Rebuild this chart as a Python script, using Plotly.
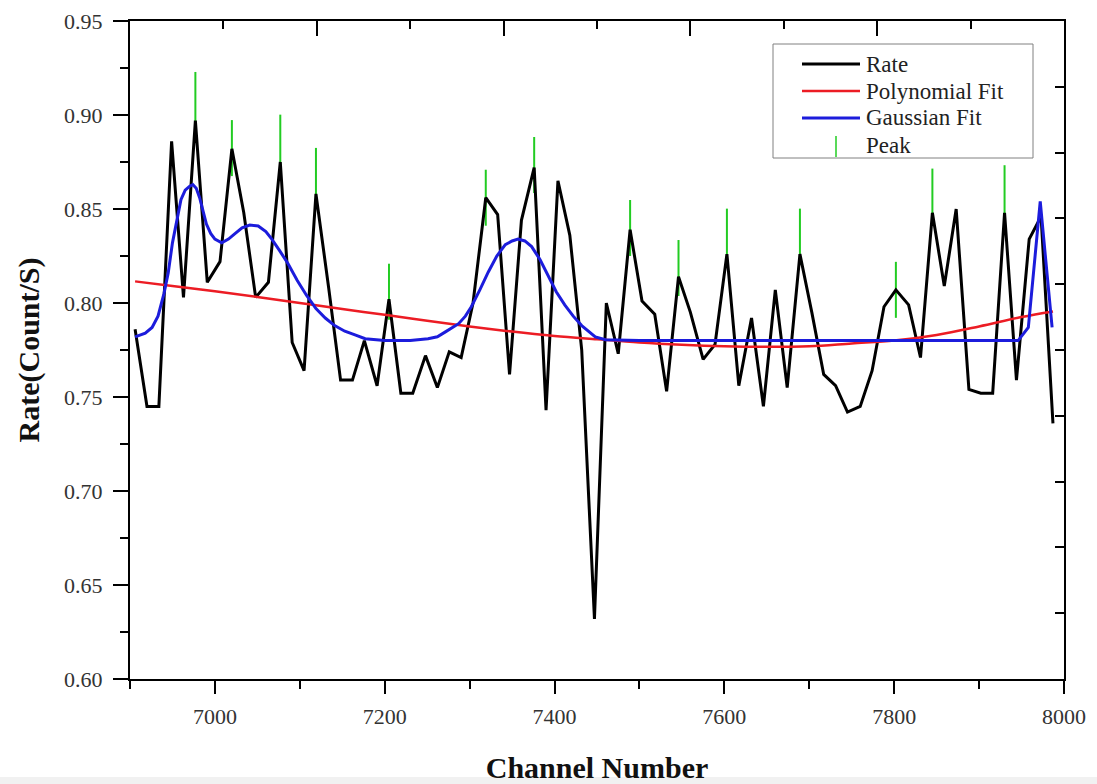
import plotly.graph_objects as go

# ---------------- data ----------------
channel = [6906, 6920, 6934, 6949, 6963, 6977, 6991, 7006, 7020, 7034,
           7048, 7063, 7077, 7091, 7105, 7119, 7134, 7148, 7162, 7176,
           7191, 7205, 7219, 7233, 7248, 7262, 7276, 7290, 7304, 7319,
           7333, 7347, 7361, 7376, 7390, 7404, 7418, 7432, 7447, 7461,
           7475, 7489, 7503, 7518, 7532, 7546, 7560, 7575, 7589, 7603,
           7617, 7632, 7646, 7660, 7674, 7689, 7703, 7717, 7731, 7745,
           7760, 7774, 7788, 7802, 7817, 7831, 7845, 7859, 7873, 7888,
           7902, 7916, 7930, 7944, 7959, 7973, 7987]
rate = [0.786, 0.745, 0.745, 0.886, 0.803, 0.897, 0.811, 0.822, 0.882, 0.848,
        0.803, 0.811, 0.875, 0.779, 0.764, 0.858, 0.808, 0.759, 0.759, 0.780,
        0.756, 0.802, 0.752, 0.752, 0.772, 0.755, 0.774, 0.771, 0.800, 0.856,
        0.847, 0.762, 0.844, 0.872, 0.743, 0.865, 0.836, 0.775, 0.632, 0.800,
        0.773, 0.839, 0.801, 0.794, 0.753, 0.814, 0.795, 0.770, 0.778, 0.826,
        0.756, 0.792, 0.745, 0.807, 0.755, 0.826, 0.795, 0.762, 0.756, 0.742,
        0.745, 0.764, 0.798, 0.807, 0.799, 0.771, 0.848, 0.809, 0.850, 0.754,
        0.752, 0.752, 0.848, 0.759, 0.834, 0.846, 0.736]

poly_x = [6906, 6950, 7000, 7050, 7100, 7150, 7200, 7250, 7300, 7350, 7400, 7450,
          7500, 7550, 7600, 7650, 7700, 7750, 7800, 7850, 7900, 7950, 7987]
poly_y = [0.8115, 0.8090, 0.8062, 0.8032, 0.8000, 0.7968, 0.7937, 0.7905, 0.7875,
          0.7848, 0.7825, 0.7807, 0.7790, 0.7778, 0.7770, 0.7767, 0.7770, 0.7785,
          0.7800, 0.7830, 0.7875, 0.7925, 0.7955]

gauss_x = [6906, 6918, 6926, 6933, 6940, 6945, 6950, 6956, 6960, 6965, 6970, 6974,
           6978, 6982, 6986, 6990, 6995, 7000, 7008, 7016, 7024, 7032, 7041, 7051,
           7060, 7067, 7076, 7086, 7097, 7108, 7119, 7130, 7141, 7153, 7165, 7177,
           7200, 7230, 7251, 7262, 7271, 7280, 7287, 7295, 7302, 7312, 7322, 7332,
           7342, 7350, 7357, 7365, 7373, 7383, 7393, 7402, 7412, 7422, 7432, 7440,
           7448, 7460, 7500, 7600, 7700, 7800, 7900, 7946, 7958, 7972, 7986]
gauss_y = [0.782, 0.784, 0.787, 0.793, 0.805, 0.816, 0.832, 0.846, 0.855, 0.860,
           0.862, 0.863, 0.861, 0.856, 0.849, 0.842, 0.837, 0.834, 0.832, 0.834,
           0.837, 0.840, 0.8415, 0.841, 0.838, 0.834, 0.828, 0.821, 0.812, 0.804,
           0.797, 0.792, 0.788, 0.785, 0.783, 0.781, 0.780, 0.780, 0.781, 0.782,
           0.7845, 0.787, 0.789, 0.793, 0.798, 0.807, 0.8165, 0.825, 0.831, 0.833,
           0.834, 0.833, 0.830, 0.823, 0.814, 0.806, 0.799, 0.793, 0.788, 0.785,
           0.782, 0.7805, 0.780, 0.780, 0.780, 0.780, 0.780, 0.780, 0.787, 0.854,
           0.787]

peak_x = [6977, 7020, 7077, 7119, 7205, 7319, 7376, 7489, 7546, 7603, 7689, 7802, 7845, 7930]
peak_y = [0.908, 0.8824, 0.8853, 0.8676, 0.806, 0.856, 0.8734, 0.8399, 0.8186,
          0.8353, 0.8353, 0.807, 0.8566, 0.8584]

legend_names = ["Rate", "Polynomial Fit", "Gaussian Fit", "Peak"]

x_range = [6900, 8000]
y_range = [0.60, 0.95]

SERIF = "Liberation Serif, Times New Roman, serif"
BLACK, RED, BLUE, GREEN = "#000000", "#ec1c24", "#1c1cdc", "#22cc22"

fig = go.Figure()
fig.add_trace(go.Scatter(
    x=peak_x, y=peak_y, mode="markers", name=legend_names[3],
    marker=dict(symbol="line-ns", size=40, color=GREEN,
                line=dict(color=GREEN, width=2))))
fig.add_trace(go.Scatter(
    x=channel, y=rate, mode="lines", name=legend_names[0],
    line=dict(color=BLACK, width=3)))
fig.add_trace(go.Scatter(
    x=poly_x, y=poly_y, mode="lines", name=legend_names[1],
    line=dict(color=RED, width=2.5, shape="spline")))
fig.add_trace(go.Scatter(
    x=gauss_x, y=gauss_y, mode="lines", name=legend_names[2],
    line=dict(color=BLUE, width=3)))
# empty trace so the top / right frame axes get drawn
fig.add_trace(go.Scatter(x=[], y=[], xaxis="x2", yaxis="y2",
                         hoverinfo="skip", showlegend=False))

tickfont = dict(family=SERIF, size=22, color="#333333")
titlefont = dict(family=SERIF, size=30, color="#111111", weight="bold")

fig.update_layout(
    width=1097, height=784,
    margin=dict(l=130, r=33, t=21, b=105, autoexpand=False),
    paper_bgcolor="white", plot_bgcolor="white",
    font=dict(family=SERIF),
    showlegend=False,
    xaxis=dict(
        range=x_range, showgrid=False, zeroline=False,
        showline=True, linecolor="black", linewidth=2,
        ticks="outside", ticklen=13, tickwidth=2, tickcolor="black",
        tick0=0, dtick=200, ticklabelstandoff=4,
        minor=dict(ticks="outside", ticklen=8, tickwidth=2, tickcolor="black",
                   tick0=0, dtick=100, showgrid=False),
        tickfont=dict(tickfont),
        title=dict(text="Channel Number", font=dict(titlefont), standoff=36),
    ),
    yaxis=dict(
        range=y_range, showgrid=False, zeroline=False,
        showline=True, linecolor="black", linewidth=2,
        ticks="outside", ticklen=15, tickwidth=2, tickcolor="black",
        tick0=0, dtick=0.05, tickformat=".2f", ticklabelstandoff=6,
        minor=dict(ticks="outside", ticklen=8, tickwidth=2, tickcolor="black",
                   tick0=0, dtick=0.025, showgrid=False),
        tickfont=dict(tickfont),
        title=dict(text="Rate(Count/S)", font=dict(titlefont), standoff=16),
    ),
    xaxis2=dict(
        overlaying="x", side="top", anchor="y2", range=[0, 10],
        showgrid=False, zeroline=False, showticklabels=False,
        showline=True, linecolor="black", linewidth=2,
        ticks="inside", ticklen=15, tickwidth=2, tickcolor="black",
        tick0=0, dtick=2,
        minor=dict(ticks="inside", ticklen=8, tickwidth=2, tickcolor="black",
                   tick0=0, dtick=1, showgrid=False),
    ),
    yaxis2=dict(
        overlaying="y", side="right", anchor="x2", range=[0, 10],
        showgrid=False, zeroline=False, showticklabels=False,
        showline=True, linecolor="black", linewidth=2,
        ticks="inside", ticklen=9, tickwidth=2, tickcolor="black",
        tick0=0, dtick=1,
    ),
)

# ---- legend box drawn in paper space (matches the Origin-style legend) ----
def px_x(px):
    return (px - 130) / 934.0

def px_y(py):
    return (679 - py) / 658.0

fig.add_shape(type="rect", xref="paper", yref="paper",
              x0=px_x(773), x1=px_x(1033), y0=px_y(158), y1=px_y(44),
              fillcolor="white", line=dict(color="#808080", width=1), layer="above")
row_y = [64, 91, 118, 145]
sample_colors = [BLACK, RED, BLUE]
for i, col in enumerate(sample_colors):
    fig.add_shape(type="line", xref="paper", yref="paper",
                  x0=px_x(802), x1=px_x(860), y0=px_y(row_y[i]), y1=px_y(row_y[i]),
                  line=dict(color=col, width=3 if i != 1 else 2.5), layer="above")
fig.add_shape(type="line", xref="paper", yref="paper",
              x0=px_x(836), x1=px_x(836), y0=px_y(157), y1=px_y(136),
              line=dict(color=GREEN, width=1.5), layer="above")
for i, name in enumerate(legend_names):
    fig.add_annotation(xref="paper", yref="paper", x=px_x(864), y=px_y(row_y[i]),
                       text=name, showarrow=False, xanchor="left", yanchor="middle",
                       font=dict(family=SERIF, size=23, color="#222222"))

# light grey strip at the bottom edge of the picture
fig.add_shape(type="rect", xref="paper", yref="paper",
              x0=-0.14, x1=1.04, y0=-0.1596, y1=-0.1489,
              fillcolor="#f1f1f1", line=dict(width=0), layer="above")

fig.write_html("out.html")
